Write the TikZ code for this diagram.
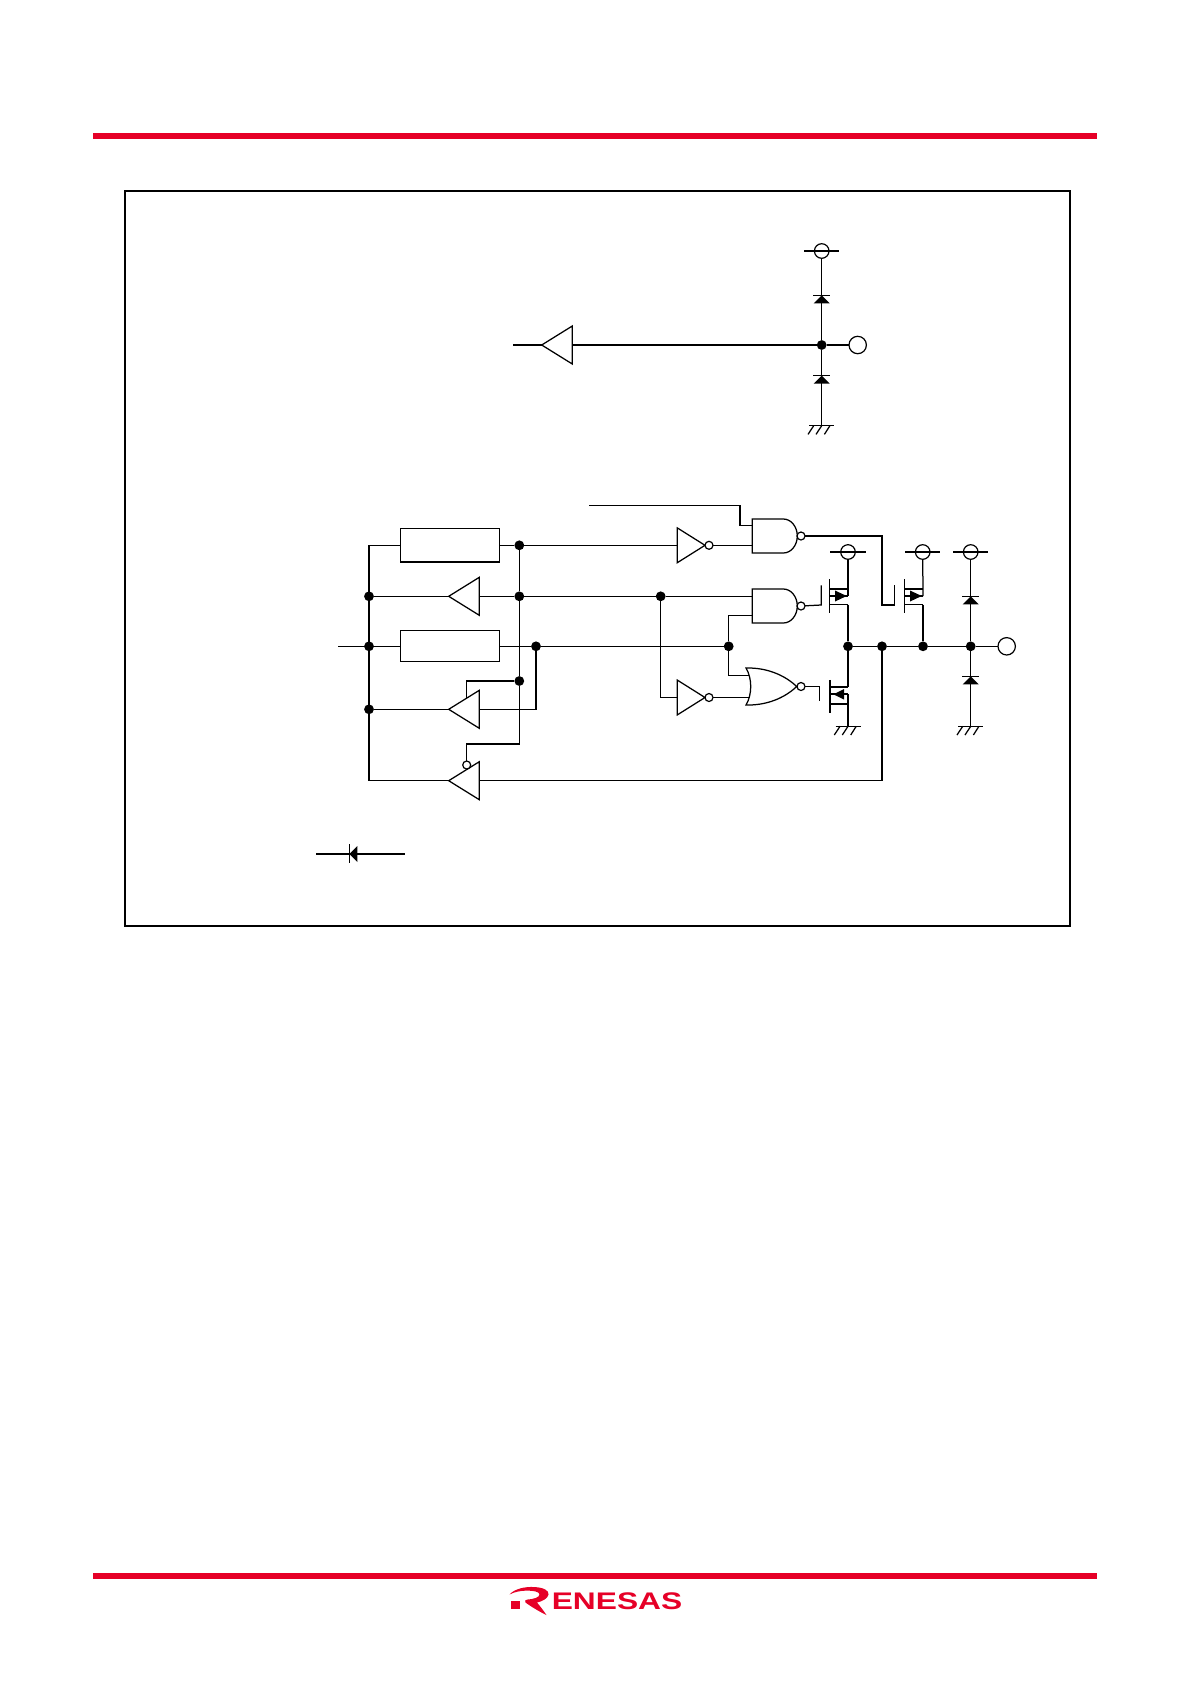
\documentclass[tikz,border=0pt]{standalone}
\usepackage{fontspec}
\newfontfamily\logofont{Liberation Sans}[BoldFont={Liberation Sans Bold}]
\definecolor{brandred}{HTML}{E60027}
\tikzset{
  x=1pt,y=-1pt,
  every path/.style={line width=1.25pt,line join=miter},
  dotn/.style={circle,fill=black,draw=none,inner sep=0pt,outer sep=0pt,minimum size=9.8pt},
  pad/.style={circle,draw,fill=white,inner sep=0pt,outer sep=0pt,minimum size=17.4pt,line width=1.2pt},
  railpin/.style={circle,draw,inner sep=0pt,outer sep=0pt,minimum size=14.6pt,line width=1.2pt},
  bubble/.style={circle,draw,fill=white,inner sep=0pt,outer sep=0pt,minimum size=8pt,line width=1.2pt},
  block/.style={rectangle,draw,fill=white,inner sep=0pt,outer sep=0pt,minimum width=99pt,line width=1.3pt},
  pics/bufl/.style={code={
    \draw[fill=white] (0,0)--(30.6,-19)--(30.6,19)--cycle;
    \coordinate (-out) at (0,0); \coordinate (-in) at (30.6,0);
    \coordinate (-en) at (18,-11.2);}},
  pics/invr/.style={code={
    \draw[fill=white] (0,-17.4)--(27.7,0)--(0,17.4)--cycle;
    \node[bubble] (-bub) at (31.7,0) {};
    \coordinate (-in) at (0,0);}},
  pics/nandg/.style={code={
    \draw[fill=white] (0,-17)--(31,-17) arc[start angle=90,end angle=-90,x radius=14pt,y radius=17pt]--(0,17)--cycle;
    \node[bubble] (-bub) at (48.7,0) {};}},
  pics/norg/.style={code={
    \draw[fill=white] (0,-18.5) .. controls (20,-19) and (38,-12) .. (50.7,0) .. controls (38,12) and (20,19) .. (0,18.5) .. controls (6.3,8) and (6.3,-8) .. (0,-18.5)--cycle;
    \node[bubble] (-bub) at (55,0) {};}},
  pics/gnd/.style={code={
    \draw (-12.3,0)--(12.7,0);
    \draw (-0,0)--(-5.7,8.7) (8.2,0)--(2.7,8.7) (-8,0)--(-13.7,8.7);
    \coordinate (-top) at (0,0);}},
  pics/diodeu/.style={code={
    \draw (-8.5,0)--(8.5,0);
    \fill (0,0)--(8,8)--(-8,8)--cycle;}},
  pics/railbar/.style={code={\draw (-17.6,0)--(17.6,0);}},
  pics/pfet/.style={code={
    \draw (0,-16.7)--(0,16.7);
    \draw (0,-7)--(18.7,-7) (0,0)--(18.7,0) (0,8.7)--(18.7,8.7);
    \fill (5.7,-5.5)--(17.4,0)--(5.7,5.5)--cycle;
    \coordinate (-src) at (18.7,-7); \coordinate (-tap) at (18.7,0); \coordinate (-drn) at (18.7,8.7);}},
  pics/nfet/.style={code={
    \draw[line width=1.7pt] (0,-16.4)--(0,16.4);
    \draw[line width=1.7pt] (0,-9.6)--(18,-9.6) (0,-2)--(18,-2) (0,8)--(18,8);
    \fill (3.3,-2)--(14,-7.2)--(14,3.2)--cycle;
    \coordinate (-drn) at (18,-9.6); \coordinate (-tap) at (18,-2);}},
}
\begin{document}
\begin{tikzpicture}
\useasboundingbox (0,0) rectangle (1190,1684);
\fill[white] (0,0) rectangle (1190,1684);
% page furniture
\fill[brandred] (93,133) rectangle (1097,139);
\fill[brandred] (93,1573) rectangle (1097,1579);
\draw[line width=2pt] (125,191) rectangle (1070,925.7);

% logo
\fill[brandred] (511,1600.5) rectangle (520,1609);
\fill[brandred] (509.5,1594.5) .. controls (515,1588.5) and (525,1586.6) .. (534,1587)
  .. controls (544,1587.5) and (549,1590.5) .. (548.5,1594.5)
  .. controls (548,1598.5) and (542,1601.5) .. (537,1602.5)
  .. controls (540,1606) and (543,1610) .. (546.5,1615)
  .. controls (539,1611.5) and (531,1606.5) .. (525.5,1602.5)
  .. controls (524.5,1601) and (525,1599.8) .. (527,1599.6)
  .. controls (533,1599.2) and (539.5,1597.5) .. (539.5,1594.5)
  .. controls (539.5,1591.5) and (533,1590.6) .. (527,1590.6)
  .. controls (521,1590.6) and (514.5,1591.8) .. (509.5,1594.5)--cycle;
\node[inner sep=0pt,outer sep=0pt,text=brandred,xscale=1.32,transform shape,anchor=center] (logo) at (617,1601.5)
  {\logofont\bfseries\fontsize{24}{26}\selectfont ENESAS};

% ---- upper circuit ----
\node[railpin] (pinA) at (821.7,251) {};
\pic at (821.7,251) {railbar};
\node[dotn] (dA) at (821.7,345) {};
\node[pad] (outA) at (857.7,345) {};
\pic (gA) at (821.7,425.7) {gnd};
\pic (bA) at (541.7,345) {bufl};
\coordinate (inA) at (513.3,345);
\draw (inA)--(bA-out);
\draw (bA-in)--(dA);
\draw (dA)--(outA);
\draw (pinA)--(dA);
\draw (dA)--(gA-top);
\pic at (821.7,295.3) {diodeu};
\pic at (821.7,375.7) {diodeu};

% ---- lower circuit: junctions ----
\node[dotn] (d1) at (369,596.3) {};
\node[dotn] (d2) at (369,646.3) {};
\node[dotn] (d3) at (369,709.3) {};
\node[dotn] (d4) at (519.3,545.3) {};
\node[dotn] (d5) at (519.3,596.3) {};
\node[dotn] (d6) at (519.3,681) {};
\node[dotn] (d7) at (536,646.3) {};
\node[dotn] (d8) at (660.7,596.3) {};
\node[dotn] (d9) at (728.7,646.3) {};
\node[dotn] (d10) at (848,646.3) {};
\node[dotn] (d11) at (882,646.3) {};
\node[dotn] (d12) at (923,646.3) {};
\node[dotn] (d13) at (970.7,646.3) {};
\coordinate (busTop) at (369,545.3);
\coordinate (busBot) at (369,780.7);
\coordinate (inB) at (338,646.3);

\node[block,minimum height=33.6pt] (r1) at (449.8,545.3) {};
\node[block,minimum height=31pt] (r2) at (449.8,646.3) {};
\pic (b2) at (448.7,596.3) {bufl};
\pic (b3) at (448.7,709.3) {bufl};
\pic (b4) at (448.7,780.7) {bufl};
\pic (i1) at (677.3,545.3) {invr};
\pic (i2) at (677.3,697.5) {invr};
\pic (n1) at (752.3,536) {nandg};
\pic (n2) at (752.3,606) {nandg};
\pic (no) at (746,686.5) {norg};
\node[bubble] (en4) at (466.7,765) {};
\node[railpin] (pin1) at (848,552) {};
\node[railpin] (pin2) at (922.7,552) {};
\node[railpin] (pin3) at (970.7,552) {};
\pic at (848,552) {railbar};
\pic at (922.7,552) {railbar};
\pic at (970.7,552) {railbar};
\node[pad] (outB) at (1006.7,646.3) {};
\pic (g1) at (848,726.3) {gnd};
\pic (g2) at (970.7,726.3) {gnd};
\pic (q1) at (829.3,596) {pfet};
\pic (q2) at (904.3,596) {pfet};
\pic (q3) at (830,696.3) {nfet};

% left bus and left-hand wires
\draw (busTop)--(busBot);
\draw (busTop)--(r1.west);
\draw (r1.east)--(d4);
\draw (inB)--(r2.west);
\draw (r2.east)--(d7);
\draw (d1)--(b2-out);
\draw (b2-in)--(d5);
\draw (d5)--(d8);
\draw (d3)--(b3-out);
\draw (busBot)--(b4-out);
% vertical enable rail
\draw (d4)--(d5);
\draw (d5)--(d6);
\coordinate (railEnd) at (519.3,744);
\coordinate (en4top) at (466.7,744);
\draw (d6)--(railEnd)--(en4top)--(en4);
\coordinate (en3top) at (466.7,681);
\draw (d6)--(en3top)--(b3-en);
\draw (b3-in)-|(d7);
% data line
\draw (d7)--(d9);
\draw (d10)--(d11);
\draw (d11)--(d12);
\draw (d12)--(d13);
\draw (d13)--(outB);
% feedback
\coordinate (fbCorner) at (882,780.7);
\draw (d11)--(fbCorner)--(b4-in);
% upper inverter and NAND
\coordinate (ctlStart) at (589,505.3);
\coordinate (ctlKnee) at (740,505.3);
\coordinate (ctlEnd) at (740,525.7);
\coordinate (n1a) at (752.3,525.7);
\draw (ctlStart)--(ctlKnee)--(ctlEnd)--(n1a);
\draw (d4)--(i1-in);
\coordinate (n1b) at (752.3,545.3);
\draw (i1-bub)--(n1b);
% second NAND inputs
\coordinate (n2a) at (752.3,596.3);
\draw (d8)--(n2a);
\coordinate (n2bk) at (728.7,615.7);
\coordinate (n2b) at (752.3,615.7);
\draw (d9)--(n2bk)--(n2b);
% inverter 2
\coordinate (i2k) at (660.7,697.5);
\draw (d8)--(i2k)--(i2-in);
\coordinate (nob) at (749.5,697.5);
\draw (i2-bub)--(nob);
\coordinate (nok) at (728.7,675.3);
\coordinate (noa) at (749,675.3);
\draw (d9)--(nok)--(noa);
% gate plates
\coordinate (gp1a) at (821.3,605);
\coordinate (gp1b) at (821.3,585.3);
\draw (n2-bub)--(gp1a)--(gp1b);
\coordinate (fb1) at (882,536);
\coordinate (fb2) at (882,605);
\coordinate (gp2a) at (894.3,605);
\coordinate (gp2b) at (894.3,585.3);
\draw (n1-bub)--(fb1)--(fb2)--(gp2a)--(gp2b);
\coordinate (gp3a) at (819.3,686.5);
\coordinate (gp3b) at (819.3,701.3);
\draw (no-bub)--(gp3a)--(gp3b);
% FET legs
\draw (pin1)--(q1-tap);
\draw (q1-drn)--(d10);
\draw (d10)--(q3-drn);
\draw[line width=1.7pt] (q3-tap)--(g1-top);
\draw (pin2)--(q2-tap);
\draw (q2-drn)--(d12);
% clamp diodes
\draw (pin3)--(d13);
\draw (d13)--(g2-top);
\pic at (970.7,596.3) {diodeu};
\pic at (970.7,676.3) {diodeu};

% legend diode
\coordinate (lgA) at (316,854);
\coordinate (lgB) at (405,854);
\coordinate (lgT) at (349.3,844.3);
\coordinate (lgU) at (349.3,863.3);
\draw (lgA)--(lgB);
\draw (lgT)--(lgU);
\fill (349.3,854)--(357.3,846)--(357.3,862)--cycle;
\end{tikzpicture}
\end{document}
